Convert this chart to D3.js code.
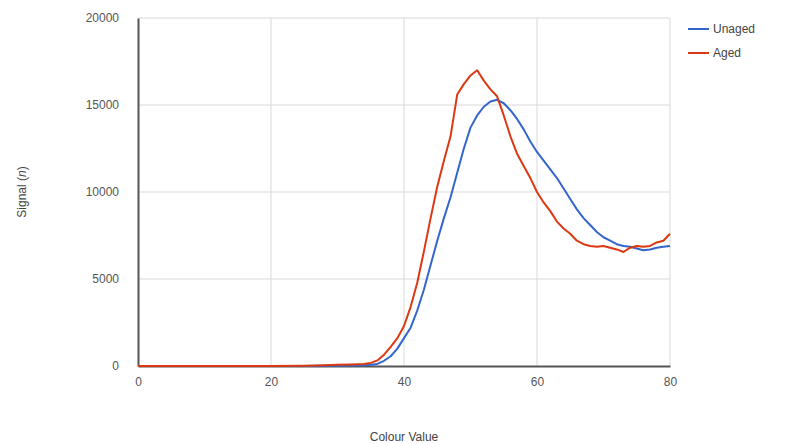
<!DOCTYPE html>
<html>
<head>
<meta charset="utf-8">
<script src="https://cdn.jsdelivr.net/npm/d3@7/dist/d3.min.js"></script>
<style>
  body { margin: 0; background: #fff; }
  svg { display: block; font-family: "Liberation Sans", Arial, sans-serif; }
</style>
</head>
<body>
<div id="chart"></div>
<script>
// colour values (x) and signals
const colourValues = [0, 5, 10, 15, 20, 25, 28, 30, 32, 34, 35, 36, 37, 38, 39, 40, 41, 42, 43, 44, 45, 46, 47, 48, 49, 50, 51, 52, 53, 54, 55, 56, 57, 58, 59, 60, 61, 62, 63, 64, 65, 66, 67, 68, 69, 70, 71, 72, 73, 74, 75, 76, 77, 78, 79, 80];
const unaged = [0, 0, 0, 0, 0, 0, 10, 20, 30, 50, 70, 120, 300, 560, 1000, 1600, 2200, 3200, 4400, 5800, 7200, 8500, 9700, 11100, 12500, 13700, 14400, 14900, 15200, 15300, 15100, 14700, 14200, 13600, 12900, 12300, 11800, 11300, 10800, 10200, 9600, 9000, 8500, 8100, 7700, 7400, 7200, 7000, 6900, 6850, 6750, 6650, 6700, 6800, 6850, 6900];
const aged = [0, 0, 0, 0, 0, 10, 40, 70, 90, 110, 180, 320, 650, 1100, 1600, 2300, 3400, 4800, 6600, 8500, 10300, 11800, 13200, 15600, 16200, 16700, 17000, 16400, 15900, 15500, 14400, 13200, 12200, 11500, 10800, 10000, 9400, 8900, 8300, 7900, 7600, 7200, 7000, 6900, 6850, 6900, 6800, 6700, 6550, 6800, 6900, 6850, 6900, 7100, 7200, 7600];
const seriesNames = ["Unaged", "Aged"];
const seriesColors = ["#3366cc", "#dc3912"];
const xTicks = [0, 20, 40, 60, 80];
const yTicks = [0, 5000, 10000, 15000, 20000];

const W = 800, H = 444;
const margin = { top: 18, right: 130, bottom: 78, left: 138 };

const svg = d3.select("#chart").append("svg")
  .attr("width", W).attr("height", H);

const x = d3.scaleLinear().domain([0, 80]).range([margin.left, W - margin.right]);
const y = d3.scaleLinear().domain([0, 20000]).range([H - margin.bottom, margin.top]);

// gridlines
svg.append("g").selectAll("line.h")
  .data(yTicks.slice(1)).enter().append("line")
  .attr("x1", x(0)).attr("x2", x(80))
  .attr("y1", d => y(d)).attr("y2", d => y(d))
  .attr("stroke", "#d9d9d9").attr("stroke-width", 1);
svg.append("g").selectAll("line.v")
  .data(xTicks.slice(1)).enter().append("line")
  .attr("x1", d => x(d)).attr("x2", d => x(d))
  .attr("y1", y(0)).attr("y2", y(20000))
  .attr("stroke", "#d9d9d9").attr("stroke-width", 1);

// axes
const xAxis = svg.append("g")
  .attr("transform", `translate(0,${y(0)})`)
  .call(d3.axisBottom(x).tickValues(xTicks).tickSize(0).tickPadding(11));
const yAxis = svg.append("g")
  .attr("transform", `translate(${x(0)},0)`)
  .call(d3.axisLeft(y).tickValues(yTicks).tickSize(0).tickPadding(19).tickFormat(d3.format("d")));
[xAxis, yAxis].forEach(a => {
  a.select(".domain").attr("stroke", "#555").attr("stroke-width", 2);
  a.selectAll("text").attr("fill", "#555").style("font-size", "12px");
});

// lines
const line = d3.line().x((d, i) => x(colourValues[i])).y(d => y(d));
[unaged, aged].forEach((s, k) => {
  svg.append("path")
    .datum(s)
    .attr("fill", "none")
    .attr("stroke", seriesColors[k])
    .attr("stroke-width", 2)
    .attr("stroke-linejoin", "round")
    .attr("d", line);
});

// axis titles
svg.append("text")
  .attr("x", (x(0) + x(80)) / 2).attr("y", 441)
  .attr("text-anchor", "middle")
  .attr("fill", "#444").style("font-size", "12px")
  .text("Colour Value");
svg.append("text")
  .attr("transform", `translate(26,${(y(0) + y(20000)) / 2}) rotate(-90)`)
  .attr("text-anchor", "middle")
  .attr("fill", "#444").style("font-size", "12px")
  .html('Signal (<tspan font-style="italic">n</tspan>)');

// legend
const legend = svg.append("g").selectAll("g")
  .data(seriesNames).enter().append("g")
  .attr("transform", (d, i) => `translate(688,${29 + i * 24})`);
legend.append("line")
  .attr("x1", 0).attr("x2", 21)
  .attr("stroke", (d, i) => seriesColors[i]).attr("stroke-width", 2);
legend.append("text")
  .attr("x", 25).attr("dy", "0.35em")
  .attr("fill", "#444").style("font-size", "12px")
  .text(d => d);
</script>
</body>
</html>
